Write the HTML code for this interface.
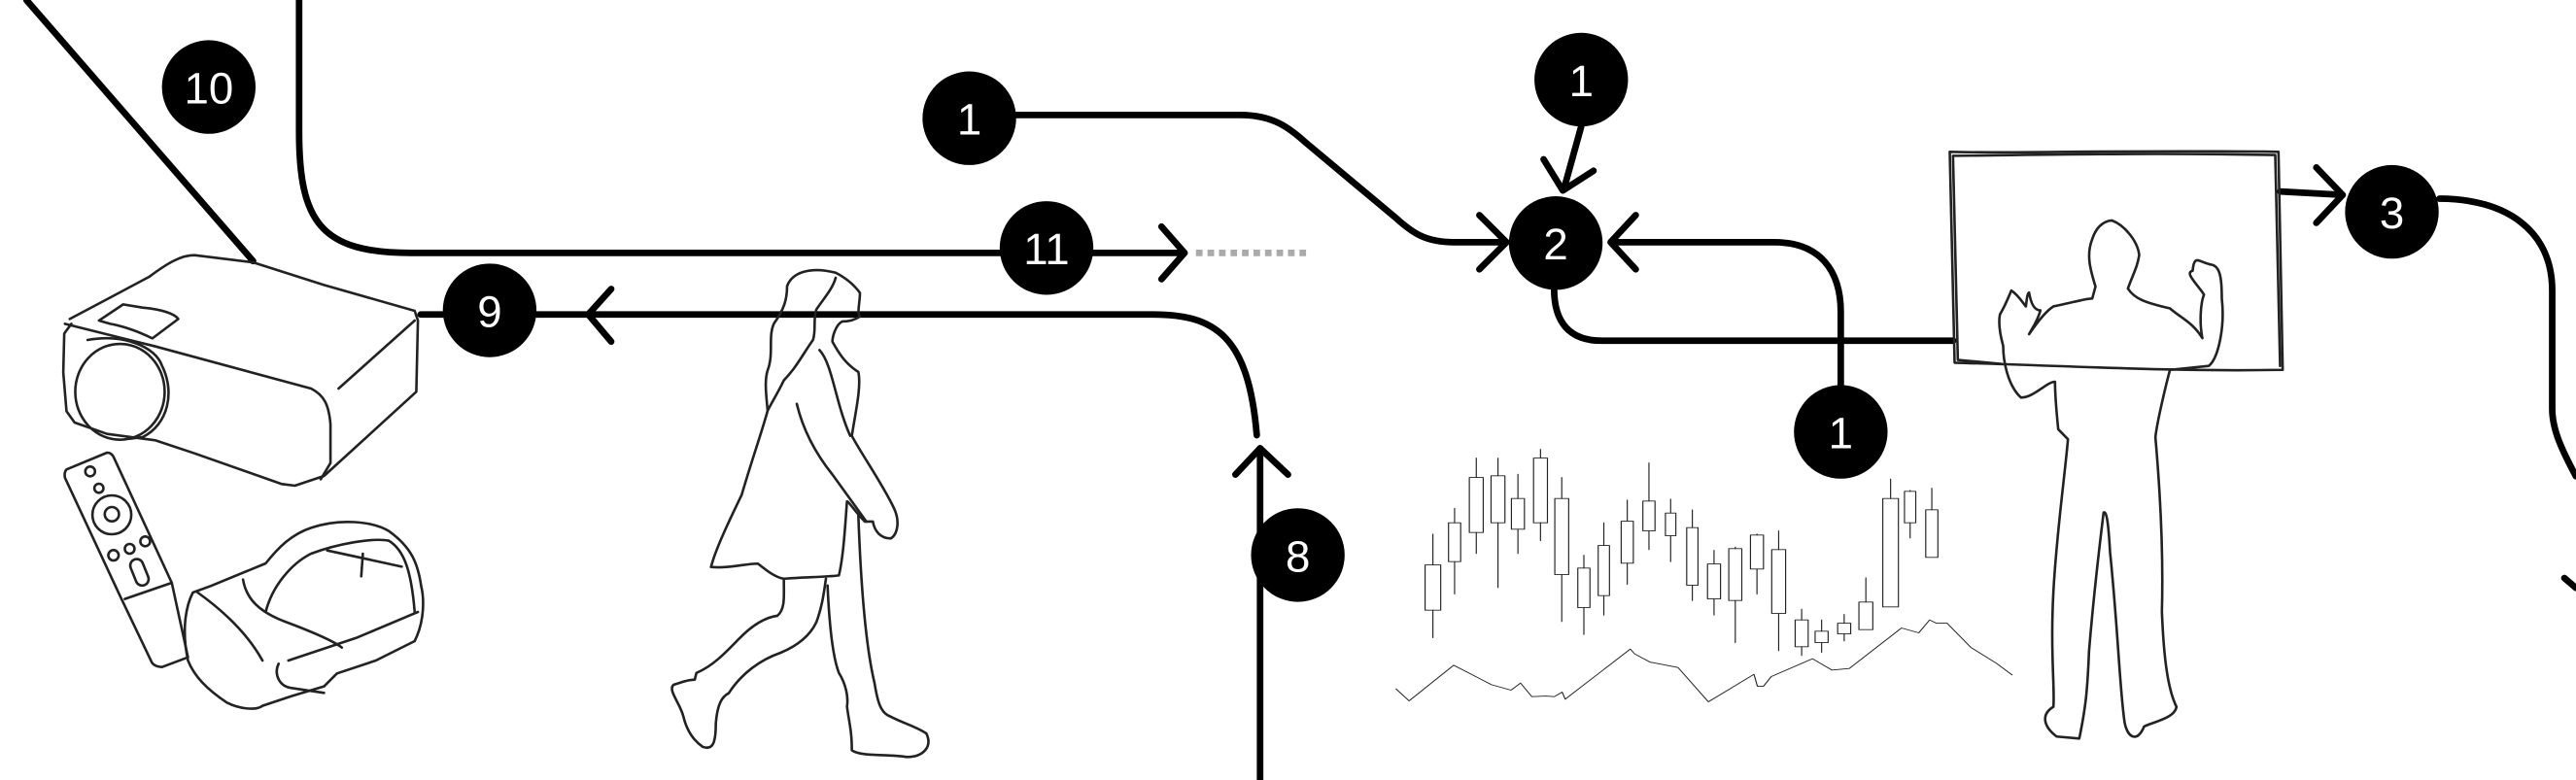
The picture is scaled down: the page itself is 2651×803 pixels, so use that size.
<!DOCTYPE html>
<html><head><meta charset="utf-8"><style>
html,body{margin:0;padding:0;background:#fff;}
svg{display:block}
.s{fill:none;stroke:#222;stroke-width:2.6;vector-effect:non-scaling-stroke;stroke-linejoin:round;stroke-linecap:round}
.c{fill:none;stroke:#000;stroke-width:4;stroke-linecap:round;stroke-linejoin:round}
.n{fill:#fff;font-family:"Liberation Sans",sans-serif;font-size:27px;text-anchor:middle}
</style></head><body>
<svg width="2651" height="803" viewBox="0 0 1568 475" xmlns="http://www.w3.org/2000/svg">
<rect width="1568" height="475" fill="#fff"/>

<!-- connectors -->
<path class="c" d="M16,0 L154,159"/>
<path class="c" d="M182,0 L182,80 C182,135 195,154 250,154 L721,154"/>
<path class="c" d="M707,138 L721,154 L707,170"/>
<path d="M728,154 L796,154" stroke="#aaa" stroke-width="4" stroke-dasharray="4,3"/>
<path class="c" d="M256,191.5 L702,191.5 C740,191.5 760,205 765,265"/>
<path class="c" d="M372,176 L358,191.5 L372,208"/>
<path class="c" d="M767,273 L767,475"/>
<path class="c" d="M752,289 L767,273 L784,289"/>
<path class="c" d="M618,70 L755,70 C775,70 785,78 795,87 L850,133 C860,142 868,147.5 885,147.5 L917,147.5"/>
<path class="c" d="M900.5,131 L917,147.5 L900.5,164"/>
<path class="c" d="M962.5,77 L952,115"/>
<path class="c" d="M939.6,97 L951.3,116 L970,104"/>
<path class="c" d="M995.7,131 L980.4,147.5 L995.7,164"/>
<path class="c" d="M982,147.5 L1080,147.5 C1108,147.5 1120.5,165 1120.5,190 L1120.5,236"/>
<path class="c" d="M946,176 C946,196 955,207.5 975,207.5 L1189,207.5"/>
<path class="c" d="M1388,116.6 L1426,118.7"/>
<path class="c" d="M1410,102 L1426,118.7 L1410,135.7"/>
<path class="c" d="M1485,121 C1525,121 1553.6,140 1553.6,177 L1553.6,249 C1553.6,262 1560,275 1568,290"/>
<path class="c" d="M1561,352 L1568,358"/>

<!-- number circles -->
<g>
<circle cx="127" cy="53" r="28.5"/><text class="n" x="127" y="63">10</text>
<circle cx="590" cy="72" r="28.5"/><text class="n" x="590" y="82">1</text>
<circle cx="962.5" cy="48.5" r="28.5"/><text class="n" x="962.5" y="58.5">1</text>
<circle cx="947" cy="148" r="28.5"/><text class="n" x="947" y="158">2</text>
<circle cx="637" cy="151" r="28.5"/><text class="n" x="637" y="161">11</text>
<circle cx="298" cy="189" r="28.5"/><text class="n" x="298" y="199">9</text>
<circle cx="790" cy="338" r="28.5"/><text class="n" x="790" y="348">8</text>
<circle cx="1120.5" cy="263" r="28.5"/><text class="n" x="1120.5" y="273">1</text>
<circle cx="1456" cy="129" r="28.5"/><text class="n" x="1456" y="139">3</text>
</g>

<!-- projector, remote, headset -->
<g transform="translate(0,147.9) scale(0.19716)">
<path class="s" fill="#fff" d="M215,235 L300,190 L460,105 C520,60 560,38 600,38 L780,60 L1000,130 L1280,210 L1290,240 L1285,460 L1000,720 L910,750 L870,745 L600,650 L480,610 L330,590 L230,555 L205,520 L195,400 L198,280 L220,250"/>
<path class="s" d="M200,250 L480,320 L960,450 C1000,470 1015,500 1020,560 L1020,680 L990,730"/>
<path class="s" d="M1045,450 L1280,240"/>
<ellipse class="s" cx="370" cy="460" rx="138" ry="148"/>
<path class="s" d="M270,300 C380,280 480,320 500,380 C540,460 520,560 440,600 L400,605"/>
<path class="s" d="M305,240 L380,190 L440,200 C500,205 540,220 550,235 L470,295 C420,270 370,255 340,250 Z"/>
<path class="s" d="M205,700 L330,648 C345,648 350,660 352,665 L530,1050 L580,1280 L500,1310 C480,1310 470,1300 468,1295 L370,1090 L200,725 C198,712 200,705 205,700 Z"/>
<path class="s" d="M385,1100 L530,1050"/>
<circle class="s" cx="278" cy="706" r="15"/><circle class="s" cx="305" cy="758" r="14"/>
<circle class="s" cx="345" cy="840" r="60"/><circle class="s" cx="345" cy="838" r="22"/>
<circle class="s" cx="350" cy="965" r="16"/><circle class="s" cx="400" cy="945" r="15"/><circle class="s" cx="448" cy="922" r="15"/>
<rect class="s" x="410" y="975" width="40" height="85" rx="20" transform="rotate(-22 430 1017)"/>
<path class="s" fill="#fff" d="M595,1080 C565,1140 565,1220 580,1290 C600,1340 640,1380 700,1420 C740,1440 790,1445 810,1430 L900,1400 L1000,1370 L1040,1330 L1160,1290 L1280,1230 C1310,1170 1310,1100 1300,1060 C1290,990 1270,940 1200,890 C1150,860 1050,850 960,880 C900,900 860,940 820,990 L650,1060 Z"/>
<path class="s" d="M820,1140 C840,1060 900,990 960,960 C1040,930 1150,910 1200,920 C1250,950 1270,1020 1280,1140"/>
<path class="s" d="M890,1290 L1100,1220 L1290,1140"/>
<path class="s" d="M750,1040 C760,1100 800,1140 880,1170 C960,1200 1030,1230 1055,1250"/>
<path class="s" d="M610,1080 C680,1130 760,1200 810,1290"/>
<path class="s" d="M860,1300 C845,1330 860,1370 900,1375 L1000,1390"/>
<path class="s" d="M1010,950 L1240,1000 M1120,960 L1115,1030"/>
</g>

<!-- woman -->
<g transform="translate(414,153.8) scale(0.19716,0.2048)">
<path class="s" d="M480,60 C520,80 540,100 555,120 C555,150 545,180 555,190 C540,200 520,205 500,205 C480,215 470,250 470,265 C490,300 510,330 550,355 C560,400 540,480 530,545 C560,600 620,680 660,760 C680,800 670,840 650,850 C620,850 600,830 595,800 L570,800 C540,770 520,740 515,740 C510,800 505,900 490,960 C450,965 380,965 320,970 C290,965 260,940 240,925 C200,925 150,940 95,935 C110,880 150,800 190,720 C220,620 250,540 270,470 C265,420 260,380 270,350 C290,300 270,250 290,210 C320,170 330,140 330,100 C345,60 400,40 480,60 Z"/>
<path class="s" d="M480,75 C470,110 440,140 420,170 C410,200 420,230 410,260 C380,300 360,340 320,380 C300,420 280,450 270,470"/>
<path class="s" d="M320,975 C320,1020 325,1060 300,1080 C260,1085 220,1110 180,1150 C140,1190 100,1230 50,1250 L45,1270 C20,1270 0,1280 -20,1285 C-40,1300 0,1340 10,1380 C20,1420 40,1450 70,1470 C100,1480 110,1460 110,1400 C115,1340 130,1320 150,1310 C190,1250 250,1210 310,1190 C360,1170 400,1140 420,1100 C440,1050 445,1000 450,970"/>
<path class="s" d="M455,990 C460,1100 470,1200 490,1250 C510,1280 520,1320 515,1350 C520,1390 530,1420 530,1480 C560,1500 640,1490 700,1500 C750,1500 780,1470 760,1430 C730,1410 690,1400 650,1380 C620,1370 610,1340 600,1280 C580,1200 560,1050 550,780"/>
<path class="s" d="M360,450 C380,530 420,600 470,660 C500,700 530,740 575,800"/>
<path class="s" d="M430,290 C470,330 480,450 525,545"/>
</g>

<!-- candlesticks & mountain -->
<g transform="translate(845.8,260.2) scale(0.2641,0.19716)">
<g class="s">
<path d="M100,330V425M100,565V650"/><rect x="82" y="425" width="36" height="140"/>
<path d="M150,250V295M150,415V515"/><rect x="136" y="295" width="28" height="120"/>
<path d="M200,95V155M200,325V390"/><rect x="184" y="155" width="32" height="170"/>
<path d="M250,95V150M250,295V495"/><rect x="234" y="150" width="32" height="145"/>
<path d="M296,145V220M296,315V390"/><rect x="281" y="220" width="30" height="95"/>
<path d="M348,68V95M348,295V350"/><rect x="332" y="95" width="32" height="200"/>
<path d="M397,155V220M397,455V600"/><rect x="381" y="220" width="32" height="235"/>
<path d="M448,395V435M448,557V640"/><rect x="434" y="435" width="28" height="122"/>
<path d="M494,295V365M494,520V580"/><rect x="481" y="365" width="26" height="155"/>
<path d="M548,225V290M548,420V485"/><rect x="534" y="290" width="28" height="130"/>
<path d="M598,110V228M598,320V378"/><rect x="584" y="228" width="28" height="92"/>
<path d="M648,222V265M648,335V415"/><rect x="636" y="265" width="24" height="70"/>
<path d="M698,255V310M698,488V535"/><rect x="685" y="310" width="26" height="178"/>
<path d="M748,380V422M748,530V580"/><rect x="733" y="422" width="30" height="108"/>
<path d="M797,370V375M797,535V665"/><rect x="782" y="375" width="30" height="160"/>
<path d="M847,330V333M847,438V515"/><rect x="832" y="333" width="30" height="105"/>
<path d="M897,320V378M897,575V690"/><rect x="881" y="378" width="32" height="197"/>
<path d="M950,562V595M950,678V705"/><rect x="935" y="595" width="30" height="83"/>
<path d="M996,595V630M996,665V695"/><rect x="981" y="630" width="30" height="35"/>
<path d="M1048,578V605M1048,638V660"/><rect x="1033" y="605" width="30" height="33"/>
<path d="M1098,465V540"/><rect x="1082" y="540" width="32" height="85"/>
<path d="M1155,160V220"/><rect x="1137" y="220" width="36" height="335"/>
<path d="M1200,195V198M1200,295V342"/><rect x="1187" y="198" width="26" height="97"/>
<path d="M1250,188V255"/><rect x="1236" y="255" width="28" height="147"/>
<path d="M15,808 L45,845 L148,735 L235,795 L280,812 L302,790 L328,832 L360,830 L380,832 L398,818 L405,840 L555,685 L565,700 L600,725 L665,742 L735,848 L840,763 L848,800 L862,800 L880,770 L975,715 L1020,750 L1060,745 L1180,620 L1220,635 L1245,595 L1260,605 L1285,605 L1340,680 L1400,730 L1435,765"/>
</g>
</g>

<!-- board and man -->
<g transform="translate(1182.9,82.8) scale(0.19716,0.2414)">
<path class="s" fill="#fff" d="M20,40 C200,45 500,35 1035,40 L1048,590 C700,595 400,580 35,572 Z"/>
<path class="s" d="M30,50 C300,48 600,42 1025,48 L1040,580 M30,50 L45,565 L180,575"/>
<path class="s" fill="#fff" d="M470,380 C455,340 440,300 460,260 C470,235 490,215 520,213 C560,225 600,265 605,300 C600,330 585,350 570,385 C590,410 620,420 700,435 C735,460 770,470 800,510 C790,470 795,420 805,400 C780,370 745,345 770,340 C775,295 790,320 830,325 C855,330 860,360 860,410 C870,480 850,560 820,580 L700,590 C690,620 660,720 655,760 C670,900 680,1050 675,1200 C680,1300 690,1390 720,1440 C715,1470 640,1480 620,1490 C600,1530 570,1520 560,1480 C545,1400 540,1250 515,1050 C510,980 505,945 495,950 C480,1050 460,1200 450,1300 C445,1400 440,1440 420,1520 L350,1515 C310,1490 300,1460 340,1440 C345,1400 330,1300 340,1150 C350,1000 375,860 385,765 L355,740 C350,700 345,650 345,620 C320,620 280,660 240,660 C200,630 185,570 185,530 C175,500 170,470 175,450 C190,430 200,410 210,390 C230,400 245,420 255,430 C258,410 260,395 265,395 C270,420 280,440 300,440 C290,470 270,490 265,500 C290,470 320,440 340,430 C400,420 440,410 460,410 Z"/>
</g>
</svg>
</body></html>
